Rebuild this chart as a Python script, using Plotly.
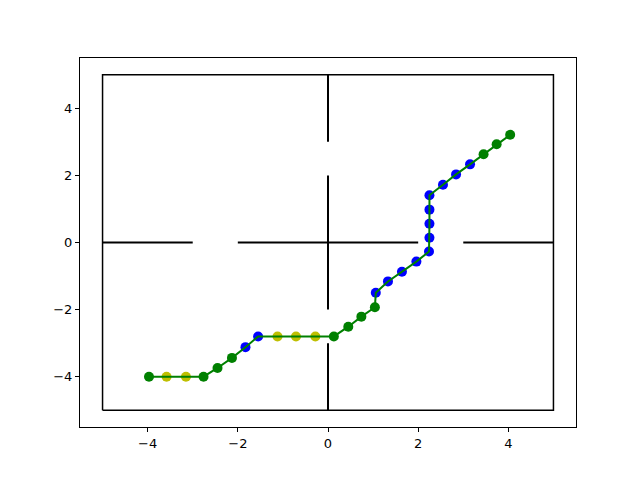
import plotly.graph_objects as go

# path points
path_x = [-3.97, -3.58, -3.15, -2.76, -2.45, -2.13, -1.83, -1.55, -1.12, -0.71, -0.28, 0.13,
          0.45, 0.74, 1.04, 1.06, 1.33, 1.64, 1.96, 2.24, 2.25, 2.25, 2.25, 2.25,
          2.55, 2.84, 3.15, 3.45, 3.74, 4.04]
path_y = [-4.0, -4.0, -4.0, -4.0, -3.74, -3.44, -3.12, -2.8, -2.8, -2.8, -2.8, -2.8,
          -2.51, -2.21, -1.93, -1.50, -1.16, -0.87, -0.57, -0.27, 0.14, 0.56, 0.98, 1.41,
          1.72, 2.03, 2.33, 2.63, 2.93, 3.21]
point_kind = ["g", "y", "y", "g", "g", "g", "b", "b", "y", "y", "y", "g",
              "g", "g", "g", "b", "b", "b", "b", "b", "b", "b", "b", "b",
              "b", "b", "b", "g", "g", "g"]

# outer box and wall segments
box_x = [-5, 5, 5, -5, -5]
box_y = [-5, -5, 5, 5, -5]
wall_x0 = [-5, -2, 3, 0, 0, 0]
wall_x1 = [-3, 2, 5, 0, 0, 0]
wall_y0 = [0, 0, 0, -5, -2, 3]
wall_y1 = [0, 0, 0, -3, 2, 5]

tick_vals = [-4, -2, 0, 2, 4]

COLORS = {"g": "#008000", "y": "#bfbf00", "b": "#0000ff"}

wx, wy = [], []
for a, b, c, d in zip(wall_x0, wall_x1, wall_y0, wall_y1):
    wx += [a, b, None]
    wy += [c, d, None]

fig = go.Figure()
fig.add_trace(go.Scatter(x=box_x, y=box_y, mode="lines",
                         line=dict(color="black", width=1.5)))
fig.add_trace(go.Scatter(x=wx, y=wy, mode="lines",
                         line=dict(color="black", width=2)))
fig.add_trace(go.Scatter(x=path_x, y=path_y, mode="markers",
                         marker=dict(size=10, color=[COLORS[k] for k in point_kind],
                                     line=dict(width=0))))
fig.add_trace(go.Scatter(x=path_x, y=path_y, mode="lines",
                         line=dict(color="#008000", width=2)))

axis = dict(range=[-5.5, 5.5], tickvals=tick_vals, showgrid=False, zeroline=False,
            showline=True, linecolor="black", linewidth=1, mirror=True,
            ticks="outside", ticklen=4, tickcolor="black",
            tickfont=dict(family="DejaVu Sans", size=13, color="black"))

# page has an 8px body margin, so shift the plot area back by it
fig.update_layout(
    width=640, height=480,
    margin=dict(l=72, r=72, t=50, b=61),
    plot_bgcolor="white", paper_bgcolor="white",
    showlegend=False,
    xaxis=axis, yaxis=axis,
)
fig.write_html("out.html")
